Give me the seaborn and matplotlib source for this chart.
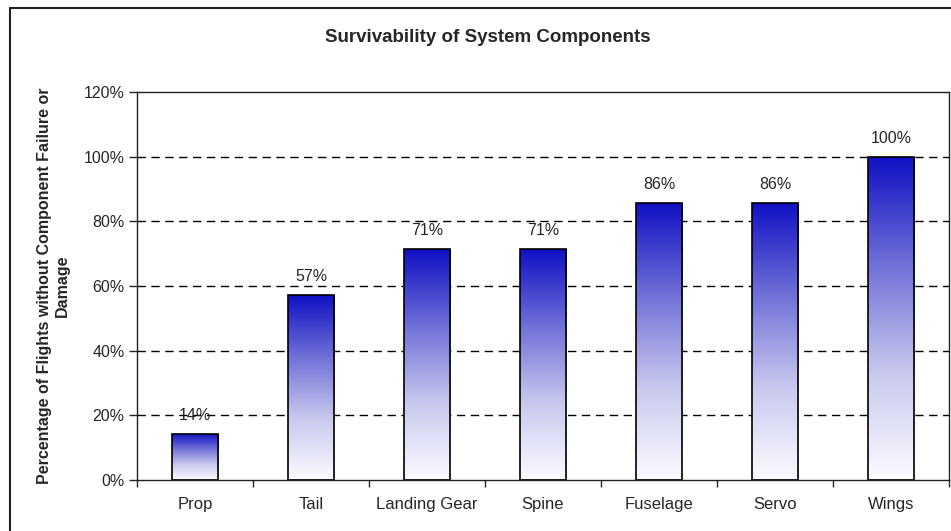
import numpy as np
import pandas as pd
import seaborn as sns
import matplotlib.pyplot as plt
from matplotlib.colors import LinearSegmentedColormap
from matplotlib.patches import Rectangle

components = ['Prop', 'Tail', 'Landing Gear', 'Spine', 'Fuselage', 'Servo', 'Wings']
survival_pct = [14.3, 57.1, 71.4, 71.4, 85.7, 85.7, 100.0]
bar_labels = ['14%', '57%', '71%', '71%', '86%', '86%', '100%']
y_ticks = [0, 20, 40, 60, 80, 100, 120]

df = pd.DataFrame({'Component': components, 'Survival': survival_pct})

sns.set_style('white')
plt.rcParams['font.family'] = ['Liberation Sans', 'DejaVu Sans']

fig = plt.figure(figsize=(9.51, 5.31), dpi=100)
ax = fig.add_axes([137 / 951, 1 - 480 / 531, (949 - 137) / 951, (480 - 92) / 531])

sns.barplot(data=df, x='Component', y='Survival', order=components,
            width=0.4, facecolor='none', edgecolor='black', linewidth=1.2,
            ax=ax, zorder=3)

# gradient fill, dark blue at the top of each bar fading to white
cmap = LinearSegmentedColormap.from_list('fade', ['#fbfbff', '#c8c8ee', '#7070d8', '#1010c4'])
grad = np.linspace(0, 1, 256).reshape(-1, 1)
for bar in ax.patches:
    x0, w, h = bar.get_x(), bar.get_width(), bar.get_height()
    im = ax.imshow(grad, cmap=cmap, origin='lower', aspect='auto',
                   extent=(x0, x0 + w, 0, h), zorder=2)
    im.set_clip_path(bar)

for i, lab in enumerate(bar_labels):
    ax.annotate(lab, (i, survival_pct[i]), xytext=(0, 8), textcoords='offset points',
                ha='center', va='bottom', fontsize=11.5)

ax.set_xlim(-0.5, len(components) - 0.5)
ax.set_ylim(0, 120)
ax.set_yticks(y_ticks)
ax.set_yticklabels([f'{t}%' for t in y_ticks], fontsize=11.5)
for t in y_ticks[1:-1]:
    ax.axhline(t, color='black', linestyle=(0, (6, 4)), linewidth=1, zorder=1)

# category boundaries as ticks, names as minor labels
ax.set_xticks(np.arange(-0.5, len(components), 1.0))
ax.set_xticklabels([])
ax.set_xticks(range(len(components)), minor=True)
ax.set_xticklabels(components, minor=True, fontsize=12)
ax.tick_params(axis='x', which='major', direction='out', length=5, width=1, bottom=True)
ax.tick_params(axis='x', which='minor', length=0, pad=12)
ax.tick_params(axis='y', direction='out', length=6, width=1, left=True, pad=3)

ax.set_xlabel('')
ax.set_ylabel('Percentage of Flights without Component Failure or\nDamage',
              fontsize=11.5, fontweight='bold', labelpad=10)
for s in ax.spines.values():
    s.set_color('#222222')
    s.set_linewidth(1)

fig.text(488 / 951, 1 - 38 / 531, 'Survivability of System Components',
         ha='center', va='center', fontsize=13.5, fontweight='bold')

# outer chart border
fig.patches.append(Rectangle((10 / 951, -0.02), 1.05, 1 - 8 / 531 + 0.02,
                             transform=fig.transFigure, fill=False,
                             edgecolor='#222222', linewidth=1.5))

fig.savefig('out.png', dpi=100)
